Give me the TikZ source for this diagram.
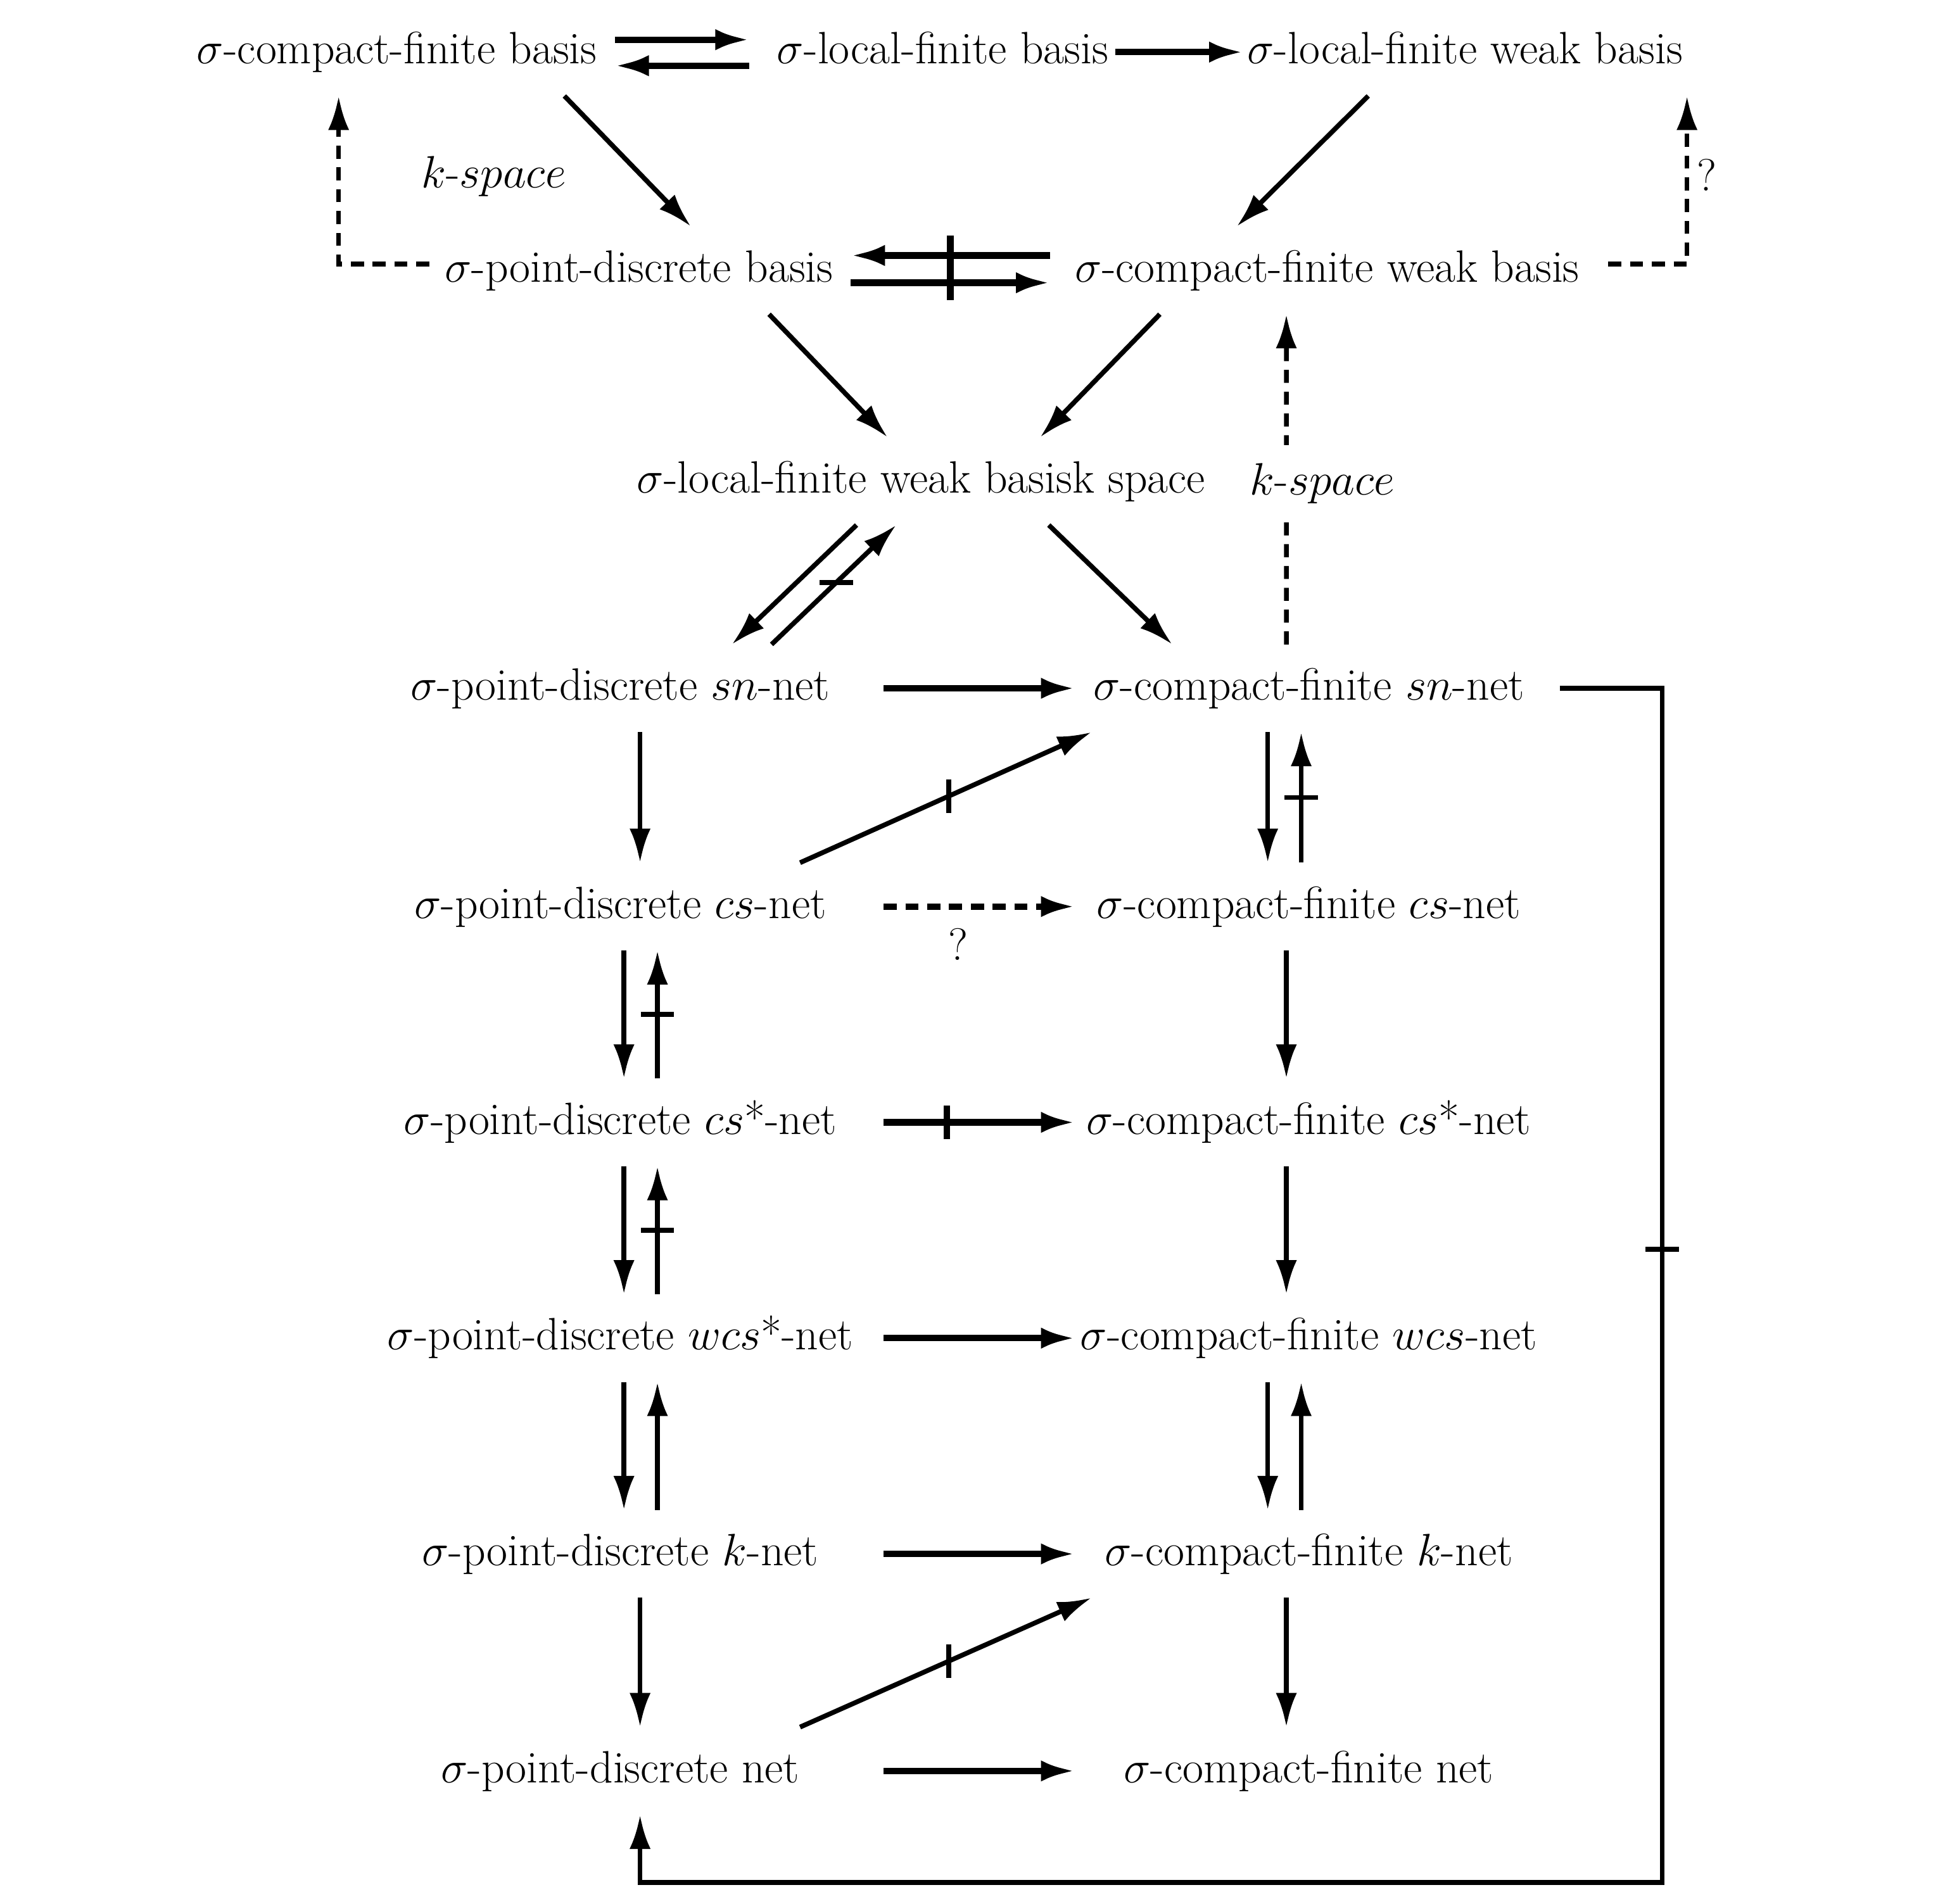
\RequirePackage{fix-cm}
\documentclass[tikz,border=0pt]{standalone}
\usepackage{amsmath}
\usepackage{amssymb}
\usepackage{xcolor}
\usepackage{tikz}
\usetikzlibrary{arrows.meta,decorations.markings}

\tikzset{
  prop/.style={inner xsep=0pt, inner ysep=.37cm, text height=14.8pt, text depth=4pt, font=\fontsize{20.8}{25}\selectfont},
  leftcol/.style={prop, minimum width=8.48cm},
  rightcol/.style={prop, minimum width=7.52cm},
  note/.style={inner sep=0pt, font=\fontsize{20.8}{25}\selectfont},
  imp/.style={-{Latex[length=.55cm,width=.34cm]}, line width=2.2pt},
  heavy/.style={line width=3pt},
  dashline/.style={dash pattern=on 6pt off 4pt},
  hbar/.style={postaction={decorate, decoration={markings, mark=at position #1 with {\pgftransformresetnontranslations\draw[-,solid] (-.27,0) -- (.27,0);}}}},
  vbar/.style={postaction={decorate, decoration={markings, mark=at position #1 with {\pgftransformresetnontranslations\draw[-,solid] (0,-.27) -- (0,.27);}}}},
  longbar/.style={postaction={decorate, decoration={markings, mark=at position #1 with {\pgftransformresetnontranslations\draw[-,solid] (0,-.28) -- (0,.76);}}}}
}

\begin{document}
\begin{tikzpicture}
    \useasboundingbox (0,0) rectangle (31.36,-30.7);

    % Bases
    \node[prop] (A1) at (6.4, -0.84) {$\sigma$-compact-finite basis};
    \node[prop] (A2) at (15.2, -0.84) {$\sigma$-local-finite basis};
    \node[prop] (A3) at (23.62, -0.84) {$\sigma$-local-finite weak basis};
    \node[prop] (B1) at (10.3, -4.36) {$\sigma$-point-discrete basis};
    \node[prop] (B2) at (21.4, -4.36) {$\sigma$-compact-finite weak basis};
    \node[prop] (C) at (14.85, -7.76) {$\sigma$-local-finite weak basisk space};

    % Nets, left column
    \node[leftcol] (D1) at (10.0, -11.1) {$\sigma$-point-discrete $sn$-net};
    \node[leftcol] (E1) at (10.0, -14.62) {$\sigma$-point-discrete $cs$-net};
    \node[leftcol] (F1) at (10.0, -18.1) {$\sigma$-point-discrete $cs$*-net};
    \node[leftcol] (G1) at (10.0, -21.58) {$\sigma$-point-discrete $wcs$*-net};
    \node[leftcol] (H1) at (10.0, -25.06) {$\sigma$-point-discrete $k$-net};
    \node[leftcol] (I1) at (10.0, -28.56) {$\sigma$-point-discrete net};

    % Nets, right column
    \node[rightcol] (D2) at (21.1, -11.1) {$\sigma$-compact-finite $sn$-net};
    \node[rightcol] (E2) at (21.1, -14.62) {$\sigma$-compact-finite $cs$-net};
    \node[rightcol] (F2) at (21.1, -18.1) {$\sigma$-compact-finite $cs$*-net};
    \node[rightcol] (G2) at (21.1, -21.58) {$\sigma$-compact-finite $wcs$-net};
    \node[rightcol] (H2) at (21.1, -25.06) {$\sigma$-compact-finite $k$-net};
    \node[rightcol] (I2) at (21.1, -28.56) {$\sigma$-compact-finite net};

    % Labels
    \node[note] (kspaceL) at (7.96, -2.84) {$k$-$space$};
    \node[note] (askR) at (27.52, -2.82) {?};
    \coordinate (loopcorner) at (26.8, -30.36);

    % Top rows
    \draw[imp, heavy] ([xshift=.28cm,yshift=.2cm]A1.east) -- ([xshift=-.44cm,yshift=.2cm]A2.west);
    \draw[imp, heavy] ([xshift=-.44cm,yshift=-.22cm]A2.west) -- ([xshift=.28cm,yshift=-.22cm]A1.east);
    \draw[imp, heavy] ([xshift=.1cm]A2.east) -- ([xshift=-.06cm]A3.west);
    \draw[imp] ([xshift=2.7cm]A1.south) -- ([xshift=.84cm]B1.north);
    \draw[imp] ([xshift=-1.56cm]A3.south) -- ([xshift=-1.46cm]B2.north);
    \draw[imp, dashline] ([xshift=-.24cm,yshift=.1cm]B1.west) -| ([xshift=-.94cm]A1.south);
    \draw[imp, dashline] ([xshift=.46cm,yshift=.1cm]B2.east) -| ([xshift=3.58cm]A3.south);
    \draw[imp, heavy] ([xshift=-.4cm,yshift=.24cm]B2.west) -- ([xshift=.28cm,yshift=.24cm]B1.east);
    \draw[imp, heavy, longbar=.5] ([xshift=.28cm,yshift=-.2cm]B1.east) -- ([xshift=-.4cm,yshift=-.2cm]B2.west);
    \draw[imp] ([xshift=2.1cm]B1.south) -- ([xshift=-.54cm]C.north);
    \draw[imp] ([xshift=-2.7cm]B2.south) -- ([xshift=1.92cm]C.north);

    % Weak basis to sn-nets
    \draw[imp] ([xshift=-1.04cm]C.south) -- ([xshift=1.8cm]D1.north);
    \draw[imp, hbar=.52] ([xshift=2.44cm]D1.north) -- ([xshift=-.4cm]C.south);
    \draw[imp] ([xshift=2.06cm]C.south) -- ([xshift=-2.2cm]D2.north);
    \draw[imp, dashline] ([xshift=-.36cm]D2.north) -- ([xshift=-.66cm]B2.south);
    \node[note, fill=white, inner xsep=.1cm, inner ysep=.3cm] (kspaceR) at (21.32, -7.8) {$k$-$space$};

    % Horizontal connections
    \draw[imp, heavy] (D1.east) -- (D2.west);
    \draw[imp, heavy, dashline] (E1.east) -- node[note, pos=.39, below=.3cm] (askE) {?} (E2.west);
    \draw[imp, heavy, vbar=.33] (F1.east) -- (F2.west);
    \draw[imp, heavy] (G1.east) -- (G2.west);
    \draw[imp, heavy] (H1.east) -- (H2.west);
    \draw[imp, heavy] (I1.east) -- (I2.west);

    % Left column
    \draw[imp] ([xshift=.32cm]D1.south) -- ([xshift=.32cm]E1.north);
    \draw[imp] ([xshift=.06cm]E1.south) -- ([xshift=.06cm]F1.north);
    \draw[imp, hbar=.5] ([xshift=.6cm]F1.north) -- ([xshift=.6cm]E1.south);
    \draw[imp] ([xshift=.06cm]F1.south) -- ([xshift=.06cm]G1.north);
    \draw[imp, hbar=.5] ([xshift=.6cm]G1.north) -- ([xshift=.6cm]F1.south);
    \draw[imp] ([xshift=.06cm]G1.south) -- ([xshift=.06cm]H1.north);
    \draw[imp] ([xshift=.6cm]H1.north) -- ([xshift=.6cm]G1.south);
    \draw[imp] ([xshift=.32cm]H1.south) -- ([xshift=.32cm]I1.north);

    % Right column
    \draw[imp] ([xshift=-.66cm]D2.south) -- ([xshift=-.66cm]E2.north);
    \draw[imp, hbar=.5] ([xshift=-.12cm]E2.north) -- ([xshift=-.12cm]D2.south);
    \draw[imp] ([xshift=-.36cm]E2.south) -- ([xshift=-.36cm]F2.north);
    \draw[imp] ([xshift=-.36cm]F2.south) -- ([xshift=-.36cm]G2.north);
    \draw[imp] ([xshift=-.66cm]G2.south) -- ([xshift=-.66cm]H2.north);
    \draw[imp] ([xshift=-.12cm]H2.north) -- ([xshift=-.12cm]G2.south);
    \draw[imp] ([xshift=-.36cm]H2.south) -- ([xshift=-.36cm]I2.north);

    % Diagonals
    \draw[imp, vbar=.51] ([xshift=2.9cm]E1.north) -- ([xshift=-3.5cm]D2.south);
    \draw[imp, vbar=.51] ([xshift=2.9cm]I1.north) -- ([xshift=-3.5cm]H2.south);

    % Loop back
    \draw[imp, hbar=.278] ([xshift=.28cm]D2.east) -| (loopcorner) -| ([xshift=.32cm]I1.south);
\end{tikzpicture}
\end{document}
